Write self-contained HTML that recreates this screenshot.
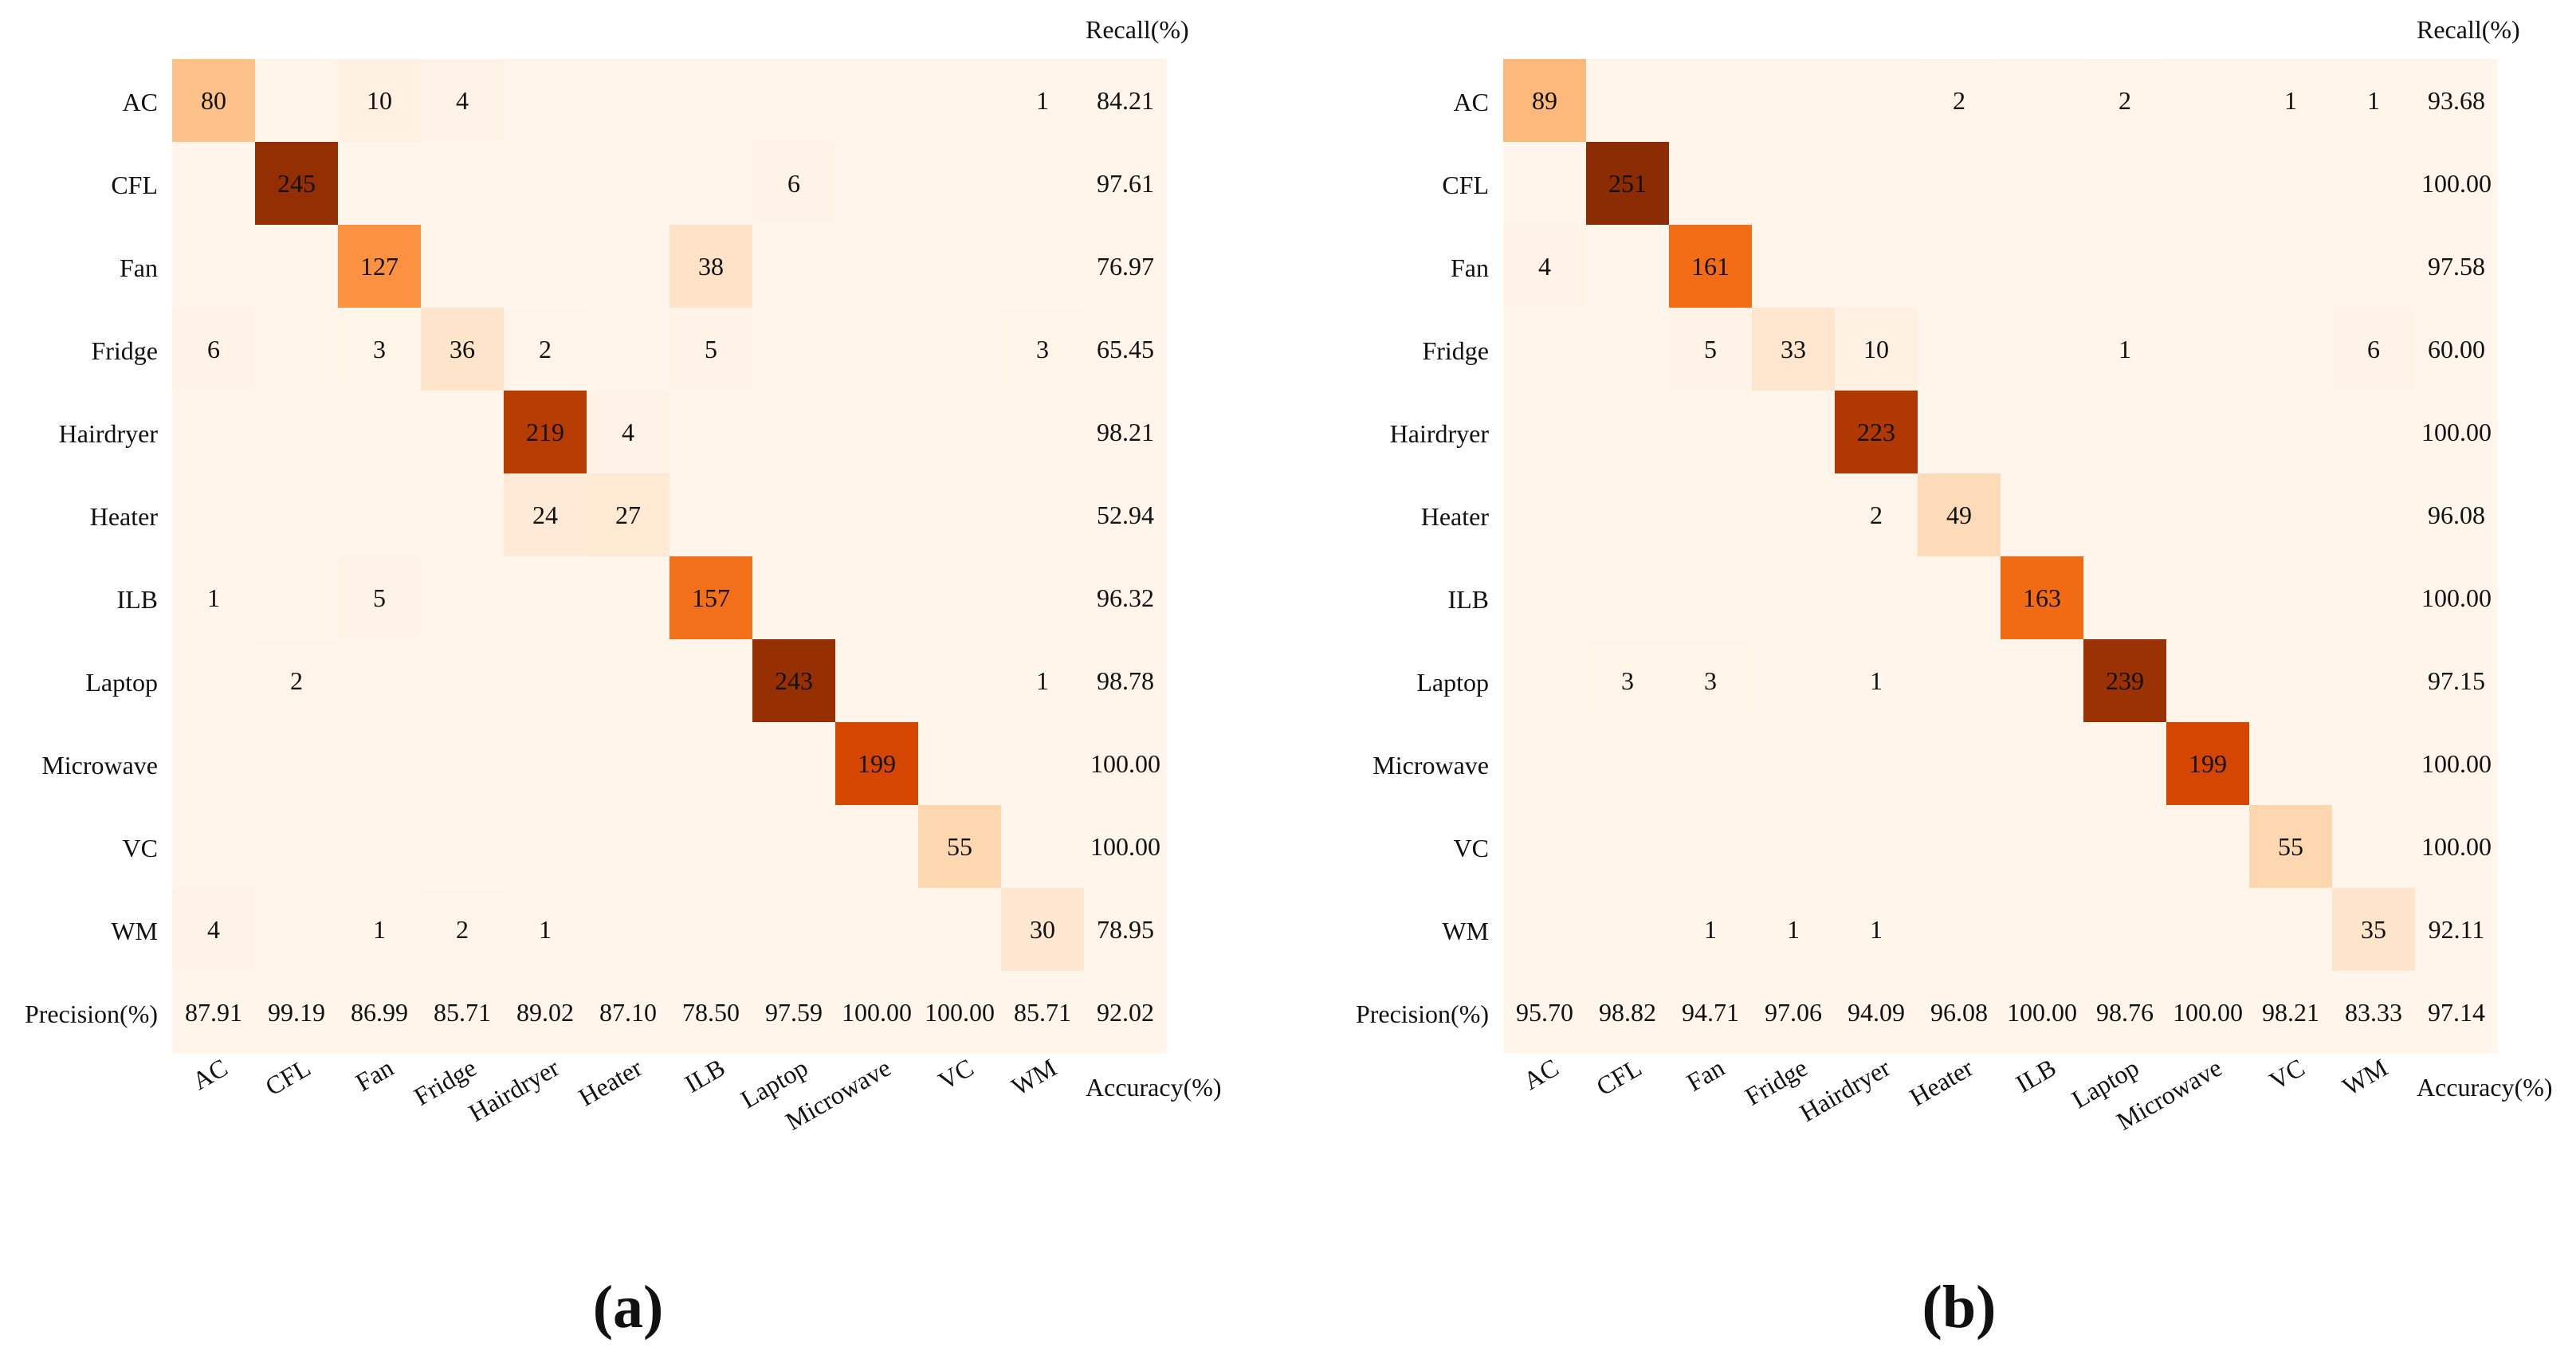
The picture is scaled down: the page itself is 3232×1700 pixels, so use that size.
<!DOCTYPE html>
<html><head><meta charset="utf-8"><style>
html,body{margin:0;padding:0;background:#fff;}
svg{display:block;font-family:"Liberation Serif",serif;}
</style></head><body>
<svg id="fig" width="3232" height="1700" viewBox="0 0 3232 1700" xmlns="http://www.w3.org/2000/svg"></svg>
<script>
const classes = ["AC","CFL","Fan","Fridge","Hairdryer","Heater","ILB","Laptop","Microwave","VC","WM"];
const matrixA = [
 [80,0,10,4,0,0,0,0,0,0,1],
 [0,245,0,0,0,0,0,6,0,0,0],
 [0,0,127,0,0,0,38,0,0,0,0],
 [6,0,3,36,2,0,5,0,0,0,3],
 [0,0,0,0,219,4,0,0,0,0,0],
 [0,0,0,0,24,27,0,0,0,0,0],
 [1,0,5,0,0,0,157,0,0,0,0],
 [0,2,0,0,0,0,0,243,0,0,1],
 [0,0,0,0,0,0,0,0,199,0,0],
 [0,0,0,0,0,0,0,0,0,55,0],
 [4,0,1,2,1,0,0,0,0,0,30]];
const recallA = ["84.21","97.61","76.97","65.45","98.21","52.94","96.32","98.78","100.00","100.00","78.95"];
const precisionA = ["87.91","99.19","86.99","85.71","89.02","87.10","78.50","97.59","100.00","100.00","85.71"];
const accuracyA = "92.02";
const matrixB = [
 [89,0,0,0,0,2,0,2,0,1,1],
 [0,251,0,0,0,0,0,0,0,0,0],
 [4,0,161,0,0,0,0,0,0,0,0],
 [0,0,5,33,10,0,0,1,0,0,6],
 [0,0,0,0,223,0,0,0,0,0,0],
 [0,0,0,0,2,49,0,0,0,0,0],
 [0,0,0,0,0,0,163,0,0,0,0],
 [0,3,3,0,1,0,0,239,0,0,0],
 [0,0,0,0,0,0,0,0,199,0,0],
 [0,0,0,0,0,0,0,0,0,55,0],
 [0,0,1,1,1,0,0,0,0,0,35]];
const recallB = ["93.68","100.00","97.58","60.00","100.00","96.08","100.00","97.15","100.00","100.00","92.11"];
const precisionB = ["95.70","98.82","94.71","97.06","94.09","96.08","100.00","98.76","100.00","98.21","83.33"];
const accuracyB = "97.14";

const NS="http://www.w3.org/2000/svg";
const svg=document.getElementById('fig');
const stops=["#fff5eb","#fee6ce","#fdd0a2","#fdae6b","#fd8d3c","#f16913","#d94801","#a63603","#7f2704"];
function hex(h){return [1,3,5].map(i=>parseInt(h.substr(i,2),16));}
function cmap(t){t=Math.max(0,Math.min(1,t));const p=t*(stops.length-1);const i=Math.min(Math.floor(p),stops.length-2);const f=p-i;const a=hex(stops[i]),b=hex(stops[i+1]);return "rgb("+a.map((v,k)=>Math.round(v+(b[k]-v)*f)).join(",")+")";}
function mk(tag,attrs,parent){const e=document.createElementNS(NS,tag);for(const k in attrs)e.setAttribute(k,attrs[k]);parent.appendChild(e);return e;}
function txt(parent,x,y,s,size,anchor,extra){const t=mk('text',Object.assign({x:x,y:y,'font-size':size,'text-anchor':anchor||'middle','dominant-baseline':'central',fill:'#111'},extra||{}),parent);t.textContent=s;return t;}

function panel(id,x0,matrix,recall,precision,acc,letter,vmax){
  const cell=104,y0=74,fs=32;
  const g=mk('g',{},svg);
  
  
  const xs=i=>x0+i*cell, ys=j=>y0+j*cell;
  const bg=mk('rect',{x:x0,y:y0,width:cell*12,height:cell*12,fill:stops[0]},g);
  
  
  matrix.forEach((row,r)=>{
    row.forEach((v,c)=>{
      if(v>0){
        const rc=mk('rect',{x:xs(c),y:ys(r),width:cell,height:cell,fill:cmap(v/vmax)},g);
        
        
        const t=txt(g,xs(c)+cell/2,ys(r)+cell/2,String(v),fs);
        
        
      }
    });
    const rt=txt(g,xs(11)+cell/2,ys(r)+cell/2,recall[r],fs);
    
    
    const rl=txt(g,x0-18,ys(r)+cell/2+2,classes[r],fs,'end');
    
    
  });
  precision.forEach((p,c)=>{
    const t=txt(g,xs(c)+cell/2,ys(11)+cell/2,p,fs);
    
    
  });
  const at=txt(g,xs(11)+cell/2,ys(11)+cell/2,acc,fs);
  
  
  const pl=txt(g,x0-18,ys(11)+cell/2+2,'Precision(%)',fs,'end');
  
  
  const rh=txt(g,xs(11)+2,37,'Recall(%)',fs,'start');
  
  
  const ah=txt(g,xs(11)+2,1364,'Accuracy(%)',fs,'start');
  
  
  classes.forEach((c,i)=>{
    const cx=xs(i)+cell/2+20, cy=1346;
    const t=txt(g,cx,cy,c,fs,'end',{transform:'rotate(-30 '+cx+' '+cy+')','dominant-baseline':'auto'});
    
    
  });
  const lt=txt(g,x0+cell*6-52,1640,'('+letter+')',76,'middle',{'font-weight':'bold'});
  
  
}
panel('a',216,matrixA,recallA,precisionA,accuracyA,'a',262);
panel('b',1886,matrixB,recallB,precisionB,accuracyB,'b',262);
</script>
</body></html>
